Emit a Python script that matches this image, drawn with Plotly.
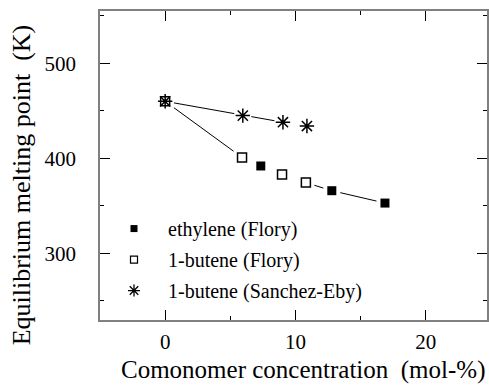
import plotly.graph_objects as go

# Data
eth_x = [0, 7.34, 12.79, 16.87]
eth_y = [460, 392, 366, 353]
but_x = [0, 5.9, 8.97, 10.8]
but_y = [460, 401, 383, 374.5]
se_x = [0, 5.96, 9.04, 10.88]
se_y = [460, 445, 438, 434]

# connecting line segments visible in the reference
line1_x = [0, 5.9, None, 10.8, 12.79, 16.87]
line1_y = [460, 401, None, 374.5, 366, 353]
line2_x = [0, 5.96, 9.04]
line2_y = [460, 445, 438]

x_title = "Comonomer concentration \u00a0(mol-%)"
y_title = "Equilibrium melting point \u00a0(K)"

FONT = "Liberation Serif"
fig = go.Figure()

# lines
for lx, ly in [(line1_x, line1_y), (line2_x, line2_y)]:
    fig.add_trace(go.Scatter(x=lx, y=ly, mode="lines", line=dict(color="black", width=1),
                             showlegend=False, hoverinfo="skip"))
# white halos giving the small gaps between lines and markers
for hx, hy in [(eth_x, eth_y), (but_x, but_y), (se_x, se_y)]:
    fig.add_trace(go.Scatter(x=hx, y=hy, mode="markers",
                             marker=dict(symbol="square", size=17, color="white", line=dict(width=0)),
                             showlegend=False, hoverinfo="skip"))

# markers
fig.add_trace(go.Scatter(x=eth_x, y=eth_y, mode="markers",
                         marker=dict(symbol="square", size=9, color="black", line=dict(width=0)),
                         showlegend=False))
fig.add_trace(go.Scatter(x=but_x, y=but_y, mode="markers",
                         marker=dict(symbol="square", size=9, color="white", line=dict(color="black", width=1.5)),
                         showlegend=False))
fig.add_trace(go.Scatter(x=se_x, y=se_y, mode="markers",
                         marker=dict(symbol="asterisk-open", size=12, color="black",
                                     line=dict(color="black", width=1.5)),
                         showlegend=False))

# legend entries
fig.add_trace(go.Scatter(x=[None], y=[None], mode="markers", name="ethylene (Flory)", legendgroup="a",
                         marker=dict(symbol="square", size=7, color="black", line=dict(width=0))))
fig.add_trace(go.Scatter(x=[None], y=[None], mode="markers", name="1-butene (Flory)", legendgroup="b",
                         marker=dict(symbol="square", size=7, color="white", line=dict(color="black", width=1.2))))
fig.add_trace(go.Scatter(x=[None], y=[None], mode="markers", name="1-butene (Sanchez-Eby)", legendgroup="c",
                         marker=dict(symbol="asterisk-open", size=10, color="black",
                                     line=dict(color="black", width=1.3))))

axis_common = dict(
    showgrid=False, zeroline=False, showline=True, linecolor="#808080", linewidth=1.5,
    ticks="inside", tickcolor="black", tickwidth=1.2, ticklen=10, mirror="allticks",
    tickfont=dict(family=FONT, size=21, color="black"),
)
fig.update_layout(
    width=489, height=391,
    margin=dict(l=100, r=0, t=11, b=71),
    paper_bgcolor="white", plot_bgcolor="white",
    font=dict(family=FONT, color="black"),
    xaxis=dict(range=[-5, 24.7], dtick=10, tick0=0,
               minor=dict(dtick=5, ticks="inside", ticklen=4, tickcolor="black"),
               ticklabelstandoff=2, **axis_common),
    yaxis=dict(range=[230, 555], dtick=100, tick0=0,
               minor=dict(dtick=50, ticks="inside", ticklen=4, tickcolor="black"),
               ticklabelstandoff=18, **axis_common),
    legend=dict(x=0.0, y=0.359, xanchor="left", yanchor="top", bgcolor="rgba(0,0,0,0)",
                font=dict(family=FONT, size=20), itemwidth=58, tracegroupgap=2),
    annotations=[
        dict(text=x_title, xref="paper", yref="paper", x=0.524, y=-0.162,
             xanchor="center", yanchor="middle", showarrow=False,
             font=dict(family=FONT, size=25, color="black")),
        dict(text=y_title, xref="paper", yref="paper", x=-0.2005, y=0.437, textangle=-90,
             xanchor="center", yanchor="middle", showarrow=False,
             font=dict(family=FONT, size=26, color="black")),
    ],
)
fig.write_html("out.html")
